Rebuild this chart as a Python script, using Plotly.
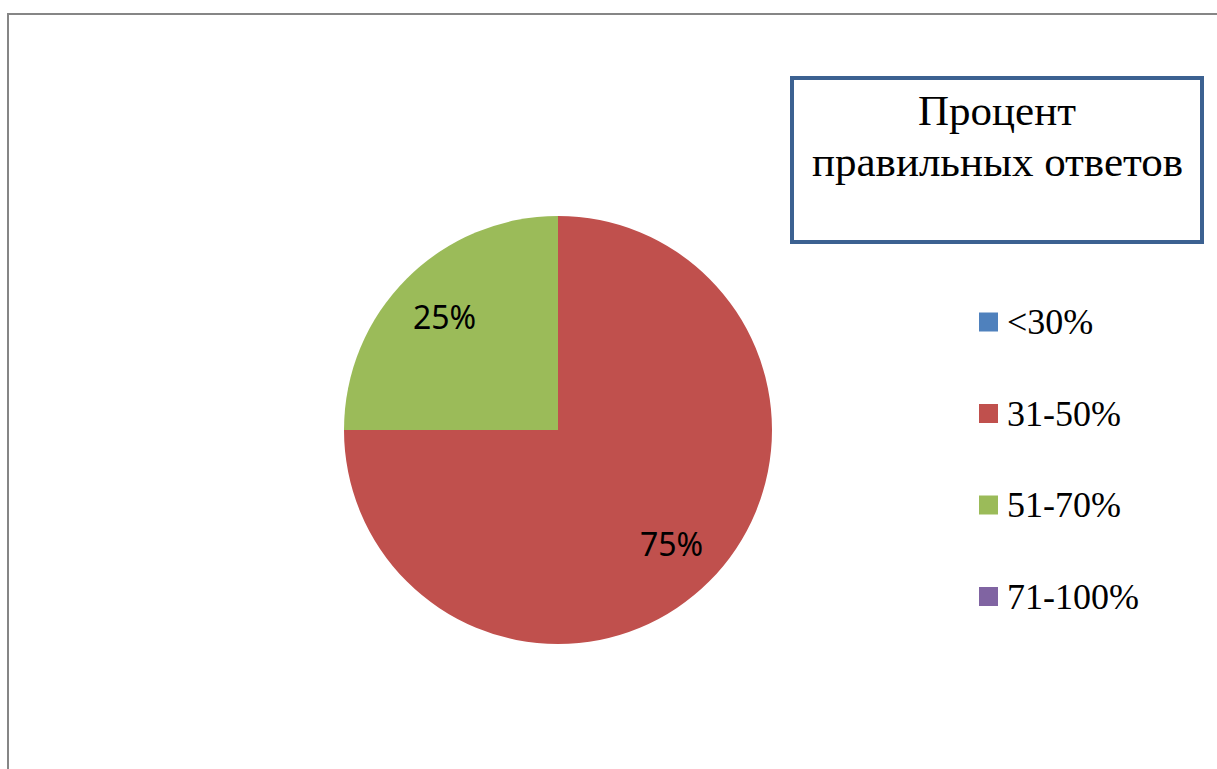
import math
import plotly.graph_objects as go

# Share of students by percentage of correct answers
categories = ["<30%", "31-50%", "51-70%", "71-100%"]
shares = [0, 75, 25, 0]
colors = ["#4F81BD", "#C0504D", "#9BBB59", "#8064A2"]
title_lines = ["Процент", "правильных ответов"]

W, H = 1217, 769
PIE_CX, PIE_CY, PIE_R = 558, 430, 214
LABEL_R = 0.75


def px_x(x):
    return x / W


def px_y(y):
    return 1 - y / H


total = sum(shares)

fig = go.Figure()
fig.add_trace(go.Pie(
    labels=categories,
    values=shares,
    marker=dict(colors=colors, line=dict(width=0)),
    sort=False,
    direction="clockwise",
    rotation=0,
    textinfo="none",
    hoverinfo="label+percent",
    showlegend=False,
    domain=dict(x=[px_x(PIE_CX - PIE_R), px_x(PIE_CX + PIE_R)],
                y=[px_y(PIE_CY + PIE_R), px_y(PIE_CY - PIE_R)]),
))

shapes = [
    # chart frame: top and left edges
    dict(type="line", xref="paper", yref="paper", x0=px_x(8), x1=1, y0=px_y(14), y1=px_y(14),
         line=dict(color="#868686", width=2)),
    dict(type="line", xref="paper", yref="paper", x0=px_x(8), x1=px_x(8), y0=px_y(13), y1=0,
         line=dict(color="#868686", width=2)),
    # title box
    dict(type="rect", xref="paper", yref="paper", x0=px_x(792), x1=px_x(1202),
         y0=px_y(242), y1=px_y(78), line=dict(color="#3C6191", width=4),
         fillcolor="rgba(0,0,0,0)"),
]

annotations = []

# percentage labels placed along each slice's mid-angle (clockwise from 12 o'clock)
cum = 0
for v in shares:
    if v:
        mid = (cum + v / 2) / total
        theta = 2 * math.pi * mid
        lx = PIE_CX + LABEL_R * PIE_R * math.sin(theta)
        ly = PIE_CY - LABEL_R * PIE_R * math.cos(theta)
        annotations.append(dict(
            text=f"{round(100 * v / total)}%", xref="paper", yref="paper",
            x=px_x(lx), y=px_y(ly), xanchor="center", yanchor="middle", showarrow=False,
            font=dict(family="Noto Sans", size=32, color="#000000"),
        ))
    cum += v

for i, line in enumerate(title_lines):
    annotations.append(dict(
        text=line, xref="paper", yref="paper", x=px_x(997), y=px_y(111 + 50 * i),
        xanchor="center", yanchor="middle", showarrow=False,
        font=dict(family="Liberation Serif", size=43, color="#000000"),
    ))

# legend built from the category list
legend_top, legend_step = 322, 91.5
for i, (name, c) in enumerate(zip(categories, colors)):
    yc = legend_top + legend_step * i
    shapes.append(dict(type="rect", xref="paper", yref="paper",
                       x0=px_x(979), x1=px_x(998), y0=px_y(yc + 9.5), y1=px_y(yc - 9.5),
                       fillcolor=c, line=dict(width=0)))
    annotations.append(dict(
        text=name, xref="paper", yref="paper", x=px_x(1005), y=px_y(yc),
        xanchor="left", yanchor="middle", showarrow=False,
        font=dict(family="Liberation Serif", size=36, color="#000000"),
    ))

fig.update_layout(
    width=W, height=H,
    margin=dict(l=0, r=0, t=0, b=0),
    paper_bgcolor="#FFFFFF",
    plot_bgcolor="#FFFFFF",
    shapes=shapes,
    annotations=annotations,
)

fig.write_html("out.html")
